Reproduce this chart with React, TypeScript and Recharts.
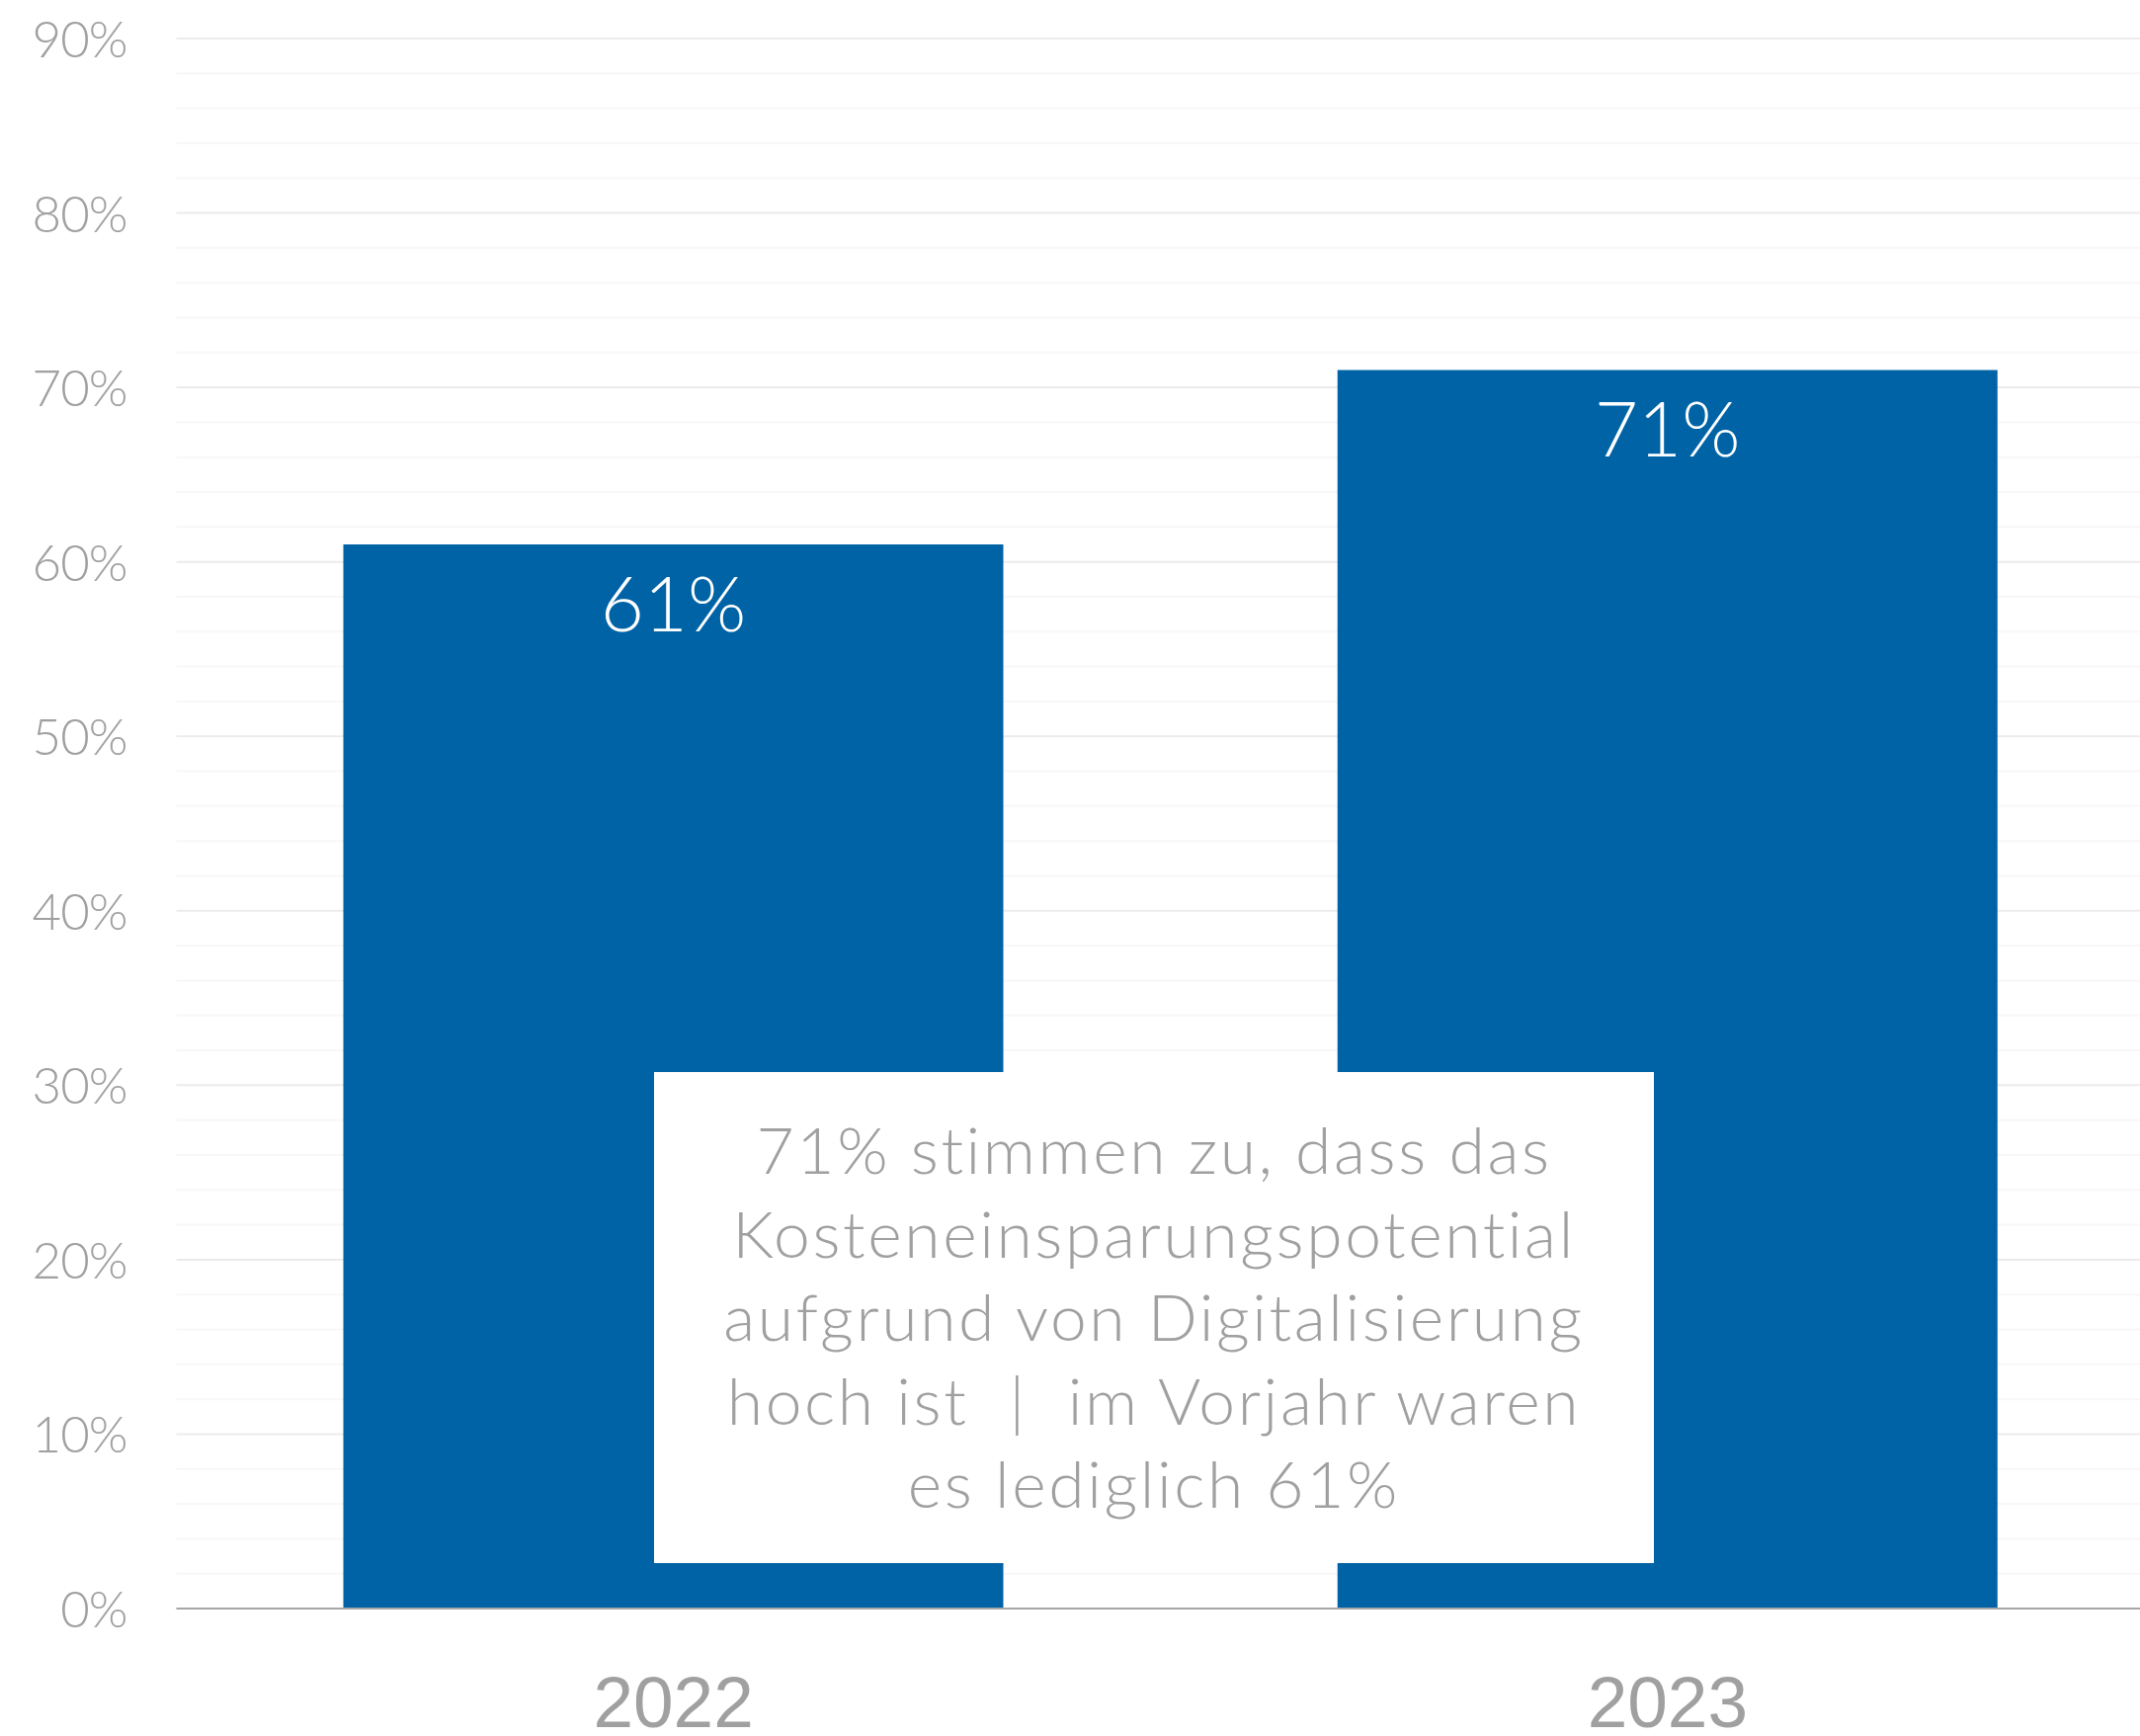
import React from "react";
import { BarChart, Bar, XAxis, YAxis, CartesianGrid, LabelList } from "recharts";

const years = ["2022", "2023"];
const shares = [61, 71];
const majorTicks = [0, 10, 20, 30, 40, 50, 60, 70, 80, 90];
const minorTicks = [2, 4, 6, 8, 12, 14, 16, 18, 22, 24, 26, 28, 32, 34, 36, 38, 42, 44, 46, 48, 52, 54, 56, 58, 62, 64, 66, 68, 72, 74, 76, 78, 82, 84, 86, 88];
const noteLines = [
  "71% stimmen zu, dass das",
  "Kosteneinsparungspotential",
  "aufgrund von Digitalisierung",
  "hoch ist  |  im Vorjahr waren",
  "es lediglich 61%",
];

const data = years.map((y, i) => ({ year: y, value: shares[i] }));

const GOTHIC = "Lato, 'Open Sans', sans-serif";
const GRAY = "#a0a0a0";
const BLUE = "#0063a6";

const YTick = (props: any) => {
  const { x, y, payload } = props;
  return (
    <text x={x - 50} y={y + 19} textAnchor="end" fill={GRAY} fontSize={51} fontFamily={GOTHIC} fontWeight={300} letterSpacing={-1}>
      {payload.value}%
    </text>
  );
};

const XTick = (props: any) => {
  const { x, y, payload } = props;
  return (
    <text x={x} y={y + 120} textAnchor="middle" fill={GRAY} fontSize={73} fontFamily="'Liberation Sans', Arial, sans-serif">
      {payload.value}
    </text>
  );
};

const BarValue = (props: any) => {
  const { x, y, width, value } = props;
  return (
    <text x={x + width / 2} y={y + 88} textAnchor="middle" fill="#ffffff" fontSize={76} fontFamily={GOTHIC} fontWeight={300}>
      {value}%
    </text>
  );
};

export default function App() {
  return (
    <div style={{ position: "absolute", left: 0, top: 0, width: 2166, height: 1757, overflow: "hidden", background: "#fff" }}>
      <BarChart width={2191} height={1757} data={data} margin={{ top: 39, right: 0, bottom: 0, left: 0 }}>
        <CartesianGrid horizontal vertical={false} horizontalValues={minorTicks} stroke="#f7f7f7" strokeWidth={2} />
        <CartesianGrid horizontal vertical={false} horizontalValues={majorTicks} stroke="#ebebeb" strokeWidth={2} />
        <YAxis
          type="number"
          domain={[0, 90]}
          ticks={majorTicks}
          width={178.5}
          axisLine={false}
          tickLine={false}
          tickSize={0}
          tickMargin={0}
          tick={<YTick />}
          interval={0}
        />
        <XAxis
          dataKey="year"
          height={129}
          axisLine={{ stroke: "#a6a6a6", strokeWidth: 2 }}
          tickLine={false}
          tickSize={0}
          tickMargin={0}
          tick={<XTick />}
          interval={0}
        />
        <Bar dataKey="value" fill={BLUE} barSize={668} isAnimationActive={false}>
          <LabelList dataKey="value" content={<BarValue />} />
        </Bar>
      </BarChart>
      <div
        style={{
          position: "absolute",
          left: 662,
          top: 1085,
          width: 1012,
          height: 497,
          background: "#ffffff",
          color: GRAY,
          fontFamily: GOTHIC,
          fontWeight: 300,
          fontSize: 66,
          letterSpacing: 2.6,
          lineHeight: "84.5px",
          textAlign: "center",
          paddingTop: 36,
          boxSizing: "border-box",
          whiteSpace: "pre",
        }}
      >
        {noteLines.map((l, i) => (
          <div key={i}>{l}</div>
        ))}
      </div>
    </div>
  );
}
